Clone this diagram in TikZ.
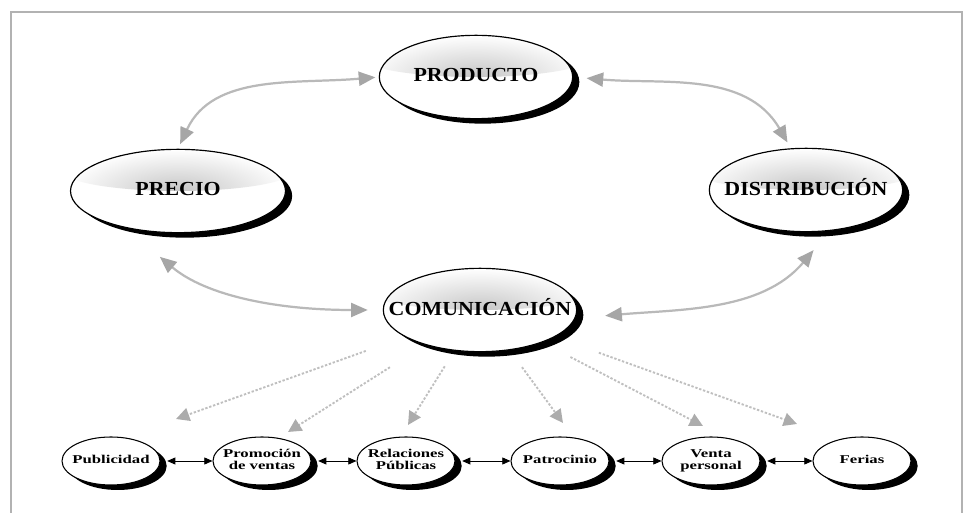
\documentclass[tikz,border=0pt]{standalone}
\usepackage{fontspec}
\usepackage{xcolor}
\usepackage{tikz}
\usetikzlibrary{shapes, arrows.meta, shadows, calc}
\newfontfamily\bigfont[FakeStretch=1.1]{Liberation Serif}
\newfontfamily\smallfont[FakeStretch=1.4]{Liberation Serif}
\newcommand{\arrowcolor}{gray!55}
\newcommand{\ctr}[1]{\makebox[0pt]{\begin{tabular}{@{}c@{}}#1\end{tabular}}}

\begin{document}
\begin{tikzpicture}[x=0.03cm, y=0.03cm]
	\tikzstyle{bigell}=[ellipse, draw=black, line width=1pt, fill=white, inner sep=0pt, minimum width=5.8cm, minimum height=2.5cm, drop shadow={shadow xshift=0.2cm, shadow yshift=-0.15cm, fill=black, opacity=1}, font=\bigfont\bfseries\fontsize{17}{19}\selectfont, path picture={\shade[inner color=gray!45, outer color=white] ($(path picture bounding box.center)+(0,20)$) ellipse (115 and 20);}]
	\tikzstyle{smallell}=[ellipse, draw=black, line width=0.9pt, fill=white, inner sep=0pt, minimum width=2.94cm, minimum height=1.44cm, drop shadow={shadow xshift=0.2cm, shadow yshift=-0.15cm, fill=black, opacity=1}, font=\smallfont\bfseries\fontsize{10.2}{9}\selectfont]
	\tikzstyle{grayarr}=[draw=\arrowcolor, line width=1.9pt, <->, >={Triangle[length=0.5cm, width=0.42cm, color=gray!70]}]
	\tikzstyle{dotarr}=[draw=gray!50, line width=1.6pt, dash pattern=on 2pt off 1.5pt, ->, >={Triangle[length=0.4cm, width=0.4cm, color=gray!65]}]
	\tikzstyle{linkarr}=[draw=black, line width=0.8pt, <->, >={Triangle[length=7pt, width=6pt]}, shorten <=0.2cm]

	\useasboundingbox (0,0) rectangle (968,513);
	\draw[gray!60, line width=0.9pt] (11,0) -- (11,501) -- (962,501) -- (962,0);

	%% marketing mix
	\node (prod) at (476,436) [bigell]{\ctr{PRODUCTO}};
	\node (pre) at (178,322) [bigell, minimum width=6.45cm]{\ctr{PRECIO}};
	\node (dis) at (806,323) [bigell]{\ctr{DISTRIBUCIÓN}};
	\node (com) at (480,203) [bigell]{\ctr{COMUNICACIÓN}};

	\draw[grayarr, shorten <=0.15cm, shorten >=0.1cm] (pre.north) to[out=65, in=185] (prod.west);
	\draw[grayarr, shorten <=0.4cm, shorten >=0.2cm] (prod.east) to[out=-5, in=120] (dis.110);
	\draw[grayarr, shorten <=1.35cm, shorten >=0.45cm] (pre.215) to[out=-40, in=180] (com.west);
	\draw[grayarr, shorten <=0.9cm, shorten >=0.75cm] (com.355) to[out=5, in=230] (dis.300);

	%% communication tools
	\node (pub) at (111,52) [smallell]{\ctr{Publicidad}};
	\node (pro) at (262,52) [smallell]{\ctr{Promoción\\de ventas}};
	\node (rel) at (406,52) [smallell]{\ctr{Relaciones\\Públicas}};
	\node (pat) at (560,52) [smallell]{\ctr{Patrocinio}};
	\node (ven) at (711,52) [smallell]{\ctr{Venta\\personal}};
	\node (fer) at (862,52) [smallell]{\ctr{Ferias}};

	\draw[linkarr] (pub) -- (pro);
	\draw[linkarr] (pro) -- (rel);
	\draw[linkarr] (rel) -- (pat);
	\draw[linkarr] (pat) -- (ven);
	\draw[linkarr] (ven) -- (fer);

	\coordinate (d1) at (176,94);
	\coordinate (d2) at (288,81);
	\coordinate (d3) at (408,88);
	\coordinate (d4) at (563,90);
	\coordinate (d5) at (703,87);
	\coordinate (d6) at (797,89);

	\foreach \e/\s in {d1/1.25cm, d2/1.25cm, d3/0.55cm, d4/0.63cm, d5/0.95cm, d6/1.4cm}
		\draw[dotarr, shorten <=\s] (com) -- (\e);
\end{tikzpicture}
\end{document}
